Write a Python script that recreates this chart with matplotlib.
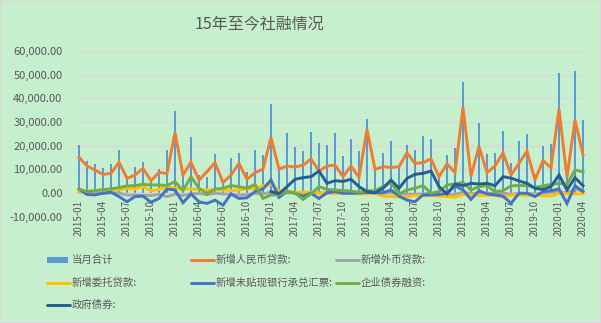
import matplotlib
matplotlib.use("Agg")
import matplotlib.pyplot as plt
import numpy as np
from matplotlib.lines import Line2D
from matplotlib.patches import Rectangle
from matplotlib.ticker import FuncFormatter, MultipleLocator

plt.rcParams['font.family'] = ['Noto Sans CJK SC', 'DejaVu Sans']
plt.rcParams['axes.unicode_minus'] = False

# ---------------- data (亿元) ----------------
months = [f"{y}-{m:02d}" for y in range(2015, 2021) for m in range(1, 13)][:64]

total = [20500, 13600, 12400, 10600, 12400, 18300, 7100, 10900, 13100, 5000, 10200, 18000,
         34500, 7800, 23600, 7500, 6600, 16400, 4800, 14600, 17000, 8900, 18300, 16200,
         37600, 11000, 25300, 19400, 17700, 25800, 21100, 20300, 25300, 15600, 22800, 17700,
         31300, 11200, 16900, 22000, 10600, 20300, 18100, 24100, 22800, 7200, 16000, 19000,
         46900, 7000, 29600, 16500, 16900, 26200, 12700, 22000, 24900, 8000, 19900, 20700,
         50700, 7800, 51500, 30800]

rmb_loans = [15100, 11400, 9700, 7900, 8300, 13000, 6200, 7600, 10400, 5200, 8700, 8300,
             25500, 7600, 13000, 5500, 9000, 12800, 4400, 7600, 12500, 5800, 8600, 10100,
             23400, 10100, 11400, 11000, 11700, 14400, 9300, 11400, 11800, 6900, 11400, 6600,
             26900, 10000, 11100, 10800, 11100, 17000, 12500, 12800, 14400, 6900, 12300, 8700,
             36100, 7200, 19600, 8600, 11400, 17000, 7600, 12500, 17700, 5500, 13700, 10700,
             35400, 6600, 30800, 16100]

fx_loans = [400, 600, 300, -200, 100, 0, -900, -800, -1000, -1000, -600, -1500,
            -500, -1000, -300, -200, -700, -100, -400, -500, -800, -700, -100, -400,
            400, 300, 100, 200, 100, 400, 0, 100, -100, 100, 200, 0,
            300, 300, 0, 100, -300, -500, -500, -400, -100, -800, -700, -500,
            300, -200, -400, -100, -200, -100, -500, -200, -200, -400, -200, 300,
            400, 100, 1600, 900]

entrusted = [600, 800, 1000, 1300, 1500, 1300, 2000, 1700, 2700, 1000, 1500, 2700,
             2000, 1700, 1700, 1500, 1300, 1300, 1300, 1000, 1300, 1700, 2000, 3000,
             3800, 800, 600, 300, 400, 100, 0, -100, -200, -100, 0, -300,
             -400, -100, -1300, -1500, -1600, -1700, -1000, -1100, -1100, -1300, -1500, -1900,
             -700, -800, -1000, -1000, -1000, -1800, -900, -900, -1000, -800, -1100, -1400,
             -100, -200, -400, -300]

bankers_acc = [1700, -600, -800, -100, 400, -1500, -3700, -1500, -1300, -3900, -2300, 1700,
               1300, -4100, -400, -3700, -4400, -3000, -5100, -400, -2300, -2000, 600, 1700,
               5500, -1800, 600, -100, -1300, -100, -2300, 100, 600, -100, -100, 0,
               300, 100, 100, 1300, -1300, -3000, -3700, -800, -800, -600, -100, 3000,
               1300, -2700, 1000, -400, -800, -1300, -4400, -100, -100, -1500, 600, 1000,
               1700, -4400, 3100, 600]

corp_bonds = [1700, 600, 1000, 1400, 1800, 2300, 3000, 3100, 3700, 3400, 3400, 3200,
              4800, 1000, 6900, 2000, -400, 1700, 2000, 3100, 2700, 2000, 3700, -2300,
              -800, -800, 600, 100, -2700, -400, 2700, 1500, 1300, 1000, 800, 300,
              1000, 1000, 2700, 4500, -400, 1300, 2000, 3100, -100, 600, 3400, 3800,
              4500, 1300, 2700, 3100, 600, 1000, 3000, 3200, 3100, 2400, 3000, 3700,
              4100, 3700, 9700, 9000]

gov_bonds = [np.nan] * 24 + [
              600, -300, 2700, 5800, 6500, 6900, 9300, 4100, 5200, 4900, 5800, 2700,
              600, 100, 2000, 5500, 2000, 6200, 7900, 8300, 9300, 2700, -400, 3800,
              3100, 4100, 3800, 4100, 3100, 6900, 6300, 5100, 4100, 2000, 1500, 2700,
              7600, 1300, 6500, 3100]

series_names = ["新增人民币贷款:", "新增外币贷款:", "新增委托贷款:",
                "新增未贴现银行承兑汇票:", "企业债券融资:", "政府债券:"]
bar_name = "当月合计"

# ---------------- styling ----------------
BG = "#C6EFCE"
GRID = "#D9D9D9"
TXT = "#595959"
bar_color = "#5B9BD5"
line_colors = ["#ED7D31", "#A5A5A5", "#FFC000", "#4472C4", "#70AD47", "#255E91"]
line_data = [rmb_loans, fx_loans, entrusted, bankers_acc, corp_bonds, gov_bonds]

W, H = 601, 323
fig = plt.figure(figsize=(W / 100, H / 100), dpi=100, facecolor=BG)

ax_l, ax_r, ax_t, ax_b = 75, 587, 51, 216.7
ax = fig.add_axes([ax_l / W, 1 - ax_b / H, (ax_r - ax_l) / W, (ax_b - ax_t) / H])
ax.set_facecolor(BG)

x = np.arange(len(months))
ax.bar(x, total, width=0.32, color=bar_color, zorder=2)
LW = 2.1
for vals, c in zip(line_data, line_colors):
    ax.plot(x, vals, color=c, lw=LW, zorder=3, solid_joinstyle='miter')

ax.set_xlim(-0.5, len(months) - 0.5)
ax.set_ylim(-10000, 60000)
ax.yaxis.set_major_locator(MultipleLocator(10000))
ax.yaxis.set_major_formatter(FuncFormatter(lambda v, p: f"{v:,.2f}"))
ax.grid(axis='y', color=GRID, lw=1, zorder=0)
ax.set_axisbelow(True)

for s in ['left', 'right', 'top']:
    ax.spines[s].set_visible(False)
ax.spines['bottom'].set_position(('data', 0))
ax.spines['bottom'].set_color(GRID)
ax.spines['bottom'].set_linewidth(1)

ax.set_xticks(x[::3])
ax.set_xticklabels(months[::3], rotation=90, fontsize=7, color=TXT)
ax.tick_params(axis='x', length=0, pad=5)
ax.tick_params(axis='y', length=0, pad=9, labelsize=8, labelcolor=TXT)

# title
fig.text(260 / W, 1 - 24 / H, "15年至今社融情况", ha='center', va='center',
         fontsize=11.5, color=TXT)

# legend (manual, Excel-like grid layout)
col_x = [47, 191, 336]
row_y = [260, 282.5, 305]
items = [(bar_name, bar_color, 'bar')] + [(n, c, 'line') for n, c in zip(series_names, line_colors)]
for k, (name, c, kind) in enumerate(items):
    r, cc = divmod(k, 3)
    x0, y0 = col_x[cc], row_y[r]
    if kind == 'bar':
        fig.add_artist(Rectangle((x0 / W, 1 - (y0 + 3) / H), 21 / W, 6 / H,
                                 transform=fig.transFigure, color=c, lw=0))
    else:
        fig.add_artist(Line2D([x0 / W, (x0 + 23) / W], [1 - y0 / H, 1 - y0 / H],
                              transform=fig.transFigure, color=c, lw=LW,
                              solid_capstyle='round'))
    fig.text((x0 + 25) / W, 1 - y0 / H, name, ha='left', va='center',
             fontsize=7.5, color=TXT)

fig.add_artist(Rectangle((0, 0), 1, 1, transform=fig.transFigure, fill=False,
                         edgecolor=GRID, lw=1.5))

fig.savefig("out.png", dpi=100, facecolor=BG)
